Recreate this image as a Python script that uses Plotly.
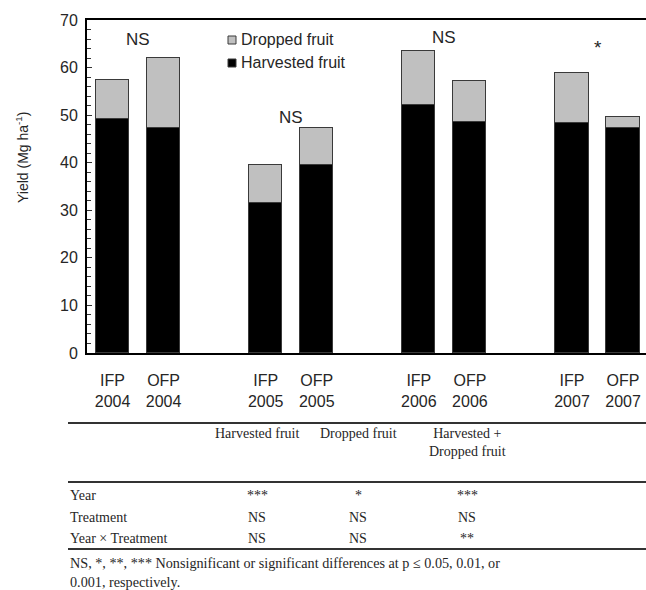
import plotly.graph_objects as go

# ---- data ----
categories = ["IFP<br>2004", "OFP<br>2004", "IFP<br>2005", "OFP<br>2005",
              "IFP<br>2006", "OFP<br>2006", "IFP<br>2007", "OFP<br>2007"]
positions = [0, 1, 3, 4, 6, 7, 9, 10]
harvested = [49.2, 47.2, 31.5, 39.5, 52.1, 48.6, 48.4, 47.3]
dropped = [8.2, 14.9, 8.0, 7.7, 11.4, 8.6, 10.4, 2.4]

sig_labels = ["NS", "NS", "NS", "*"]
sig_x = [0.5, 3.5, 6.5, 9.5]
sig_y = [66.0, 49.6, 66.4, 64.2]

legend_labels = ["Dropped fruit", "Harvested fruit"]

table_cols = ["Harvested fruit", "Dropped fruit", "Harvested +<br>Dropped fruit"]
table_rows = ["Year", "Treatment", "Year × Treatment"]
table_vals = [["***", "*", "***"],
              ["NS", "NS", "NS"],
              ["NS", "NS", "**"]]
footnote = ["NS, *, **, *** Nonsignificant or significant differences at p ≤ 0.05, 0.01, or",
            "0.001, respectively."]

# ---- layout geometry (screen pixels) ----
W, H = 646, 590
L, R, T, B = 87, 0, 20, 590 - 353
PW = W - L - R
PH = H - T - B

def px(xs):
    return (xs - L) / PW

def py(ys):
    return (H - B - ys) / PH

SANS = "Arial, Liberation Sans, sans-serif"
SERIF = "Times New Roman, Liberation Serif, serif"
TXT = "#262626"
EDGE = "#3a3a3a"
GREY = "#c0c0c0"

fig = go.Figure()
fig.add_trace(go.Bar(
    x=positions, y=harvested, name=legend_labels[1], width=0.65, showlegend=False,
    marker=dict(color="#000000", line=dict(color=EDGE, width=1)),
))
fig.add_trace(go.Bar(
    x=positions, y=dropped, name=legend_labels[0], width=0.65, showlegend=False,
    marker=dict(color=GREY, line=dict(color=EDGE, width=1)),
))

annotations = []
shapes = []
for lab, x, y in zip(sig_labels, sig_x, sig_y):
    annotations.append(dict(x=x, y=y, xref="x", yref="y", text=lab, showarrow=False,
                            font=dict(family=SANS, size=17 if lab == "NS" else 19, color=TXT)))

# manual legend
leg_fill = [GREY, "#000000"]
leg_y = [40, 63]
for lab, fill, ly in zip(legend_labels, leg_fill, leg_y):
    shapes.append(dict(type="rect", xref="paper", yref="paper",
                       x0=px(228), x1=px(236), y0=py(ly + 4), y1=py(ly - 4),
                       fillcolor=fill, line=dict(color=EDGE, width=1)))
    annotations.append(dict(x=px(239), y=py(ly), xref="paper", yref="paper",
                            text=lab, showarrow=False, xanchor="left", yanchor="middle",
                            font=dict(family=SANS, size=16, color=TXT)))

# y-axis title
annotations.append(dict(x=px(22), y=py(158), xref="paper", yref="paper",
                        xanchor="center", yanchor="middle",
                        text="Yield (Mg ha<sup>-1</sup>)", textangle=-90, showarrow=False,
                        font=dict(family=SANS, size=14, color=TXT)))

# table headers
col_x = [257, 358, 467]
for c, cx in zip(table_cols, col_x):
    annotations.append(dict(x=px(cx), y=py(424), xref="paper", yref="paper",
                            text=c, showarrow=False, yanchor="top", xanchor="center",
                            font=dict(family=SERIF, size=14, color=TXT)))
row_y = [495, 517, 538]
for rlab, ry, vals in zip(table_rows, row_y, table_vals):
    annotations.append(dict(x=px(68), y=py(ry), xref="paper", yref="paper",
                            text=rlab, showarrow=False, xanchor="left", yanchor="middle",
                            font=dict(family=SERIF, size=14, color=TXT)))
    for v, cx in zip(vals, col_x):
        annotations.append(dict(x=px(cx), y=py(ry), xref="paper", yref="paper",
                                text=v, showarrow=False, xanchor="center", yanchor="middle",
                                font=dict(family=SERIF, size=14, color=TXT)))
for i, line in enumerate(footnote):
    annotations.append(dict(x=px(68), y=py(563 + 19 * i), xref="paper", yref="paper",
                            text=line, showarrow=False, xanchor="left", yanchor="middle",
                            font=dict(family=SERIF, size=14.2, color=TXT)))

for ly in [423, 482, 549]:
    shapes.append(dict(type="line", xref="paper", yref="paper",
                       x0=px(68), x1=1.0, y0=py(ly), y1=py(ly),
                       line=dict(color="#333333", width=2)))

fig.update_layout(
    width=W, height=H, autosize=False,
    margin=dict(l=L, r=R, t=T, b=B),
    barmode="stack", bargap=0,
    plot_bgcolor="white", paper_bgcolor="white",
    showlegend=False,
    annotations=annotations,
    shapes=shapes,
    xaxis=dict(range=[-0.5, 10.45], tickmode="array", tickvals=positions,
               ticktext=categories, showline=True, linecolor="black", linewidth=2,
               mirror=True, ticks="", showgrid=False, zeroline=False,
               tickfont=dict(family=SANS, size=16, color=TXT), fixedrange=True,
               ticklabelstandoff=12),
    yaxis=dict(range=[0, 70], dtick=10, showline=True, linecolor="black", linewidth=2,
               ticks="inside", ticklen=5, tickcolor="#333", showgrid=False, zeroline=False,
               tickfont=dict(family=SANS, size=16, color=TXT),
               minor=dict(dtick=2, ticks="inside", ticklen=4, tickcolor="#333"),
               ticklabelstandoff=4),
)

fig.write_html("out.html", config={"displayModeBar": False},
               post_script="document.body.style.margin='0';document.body.style.overflow='hidden';")
